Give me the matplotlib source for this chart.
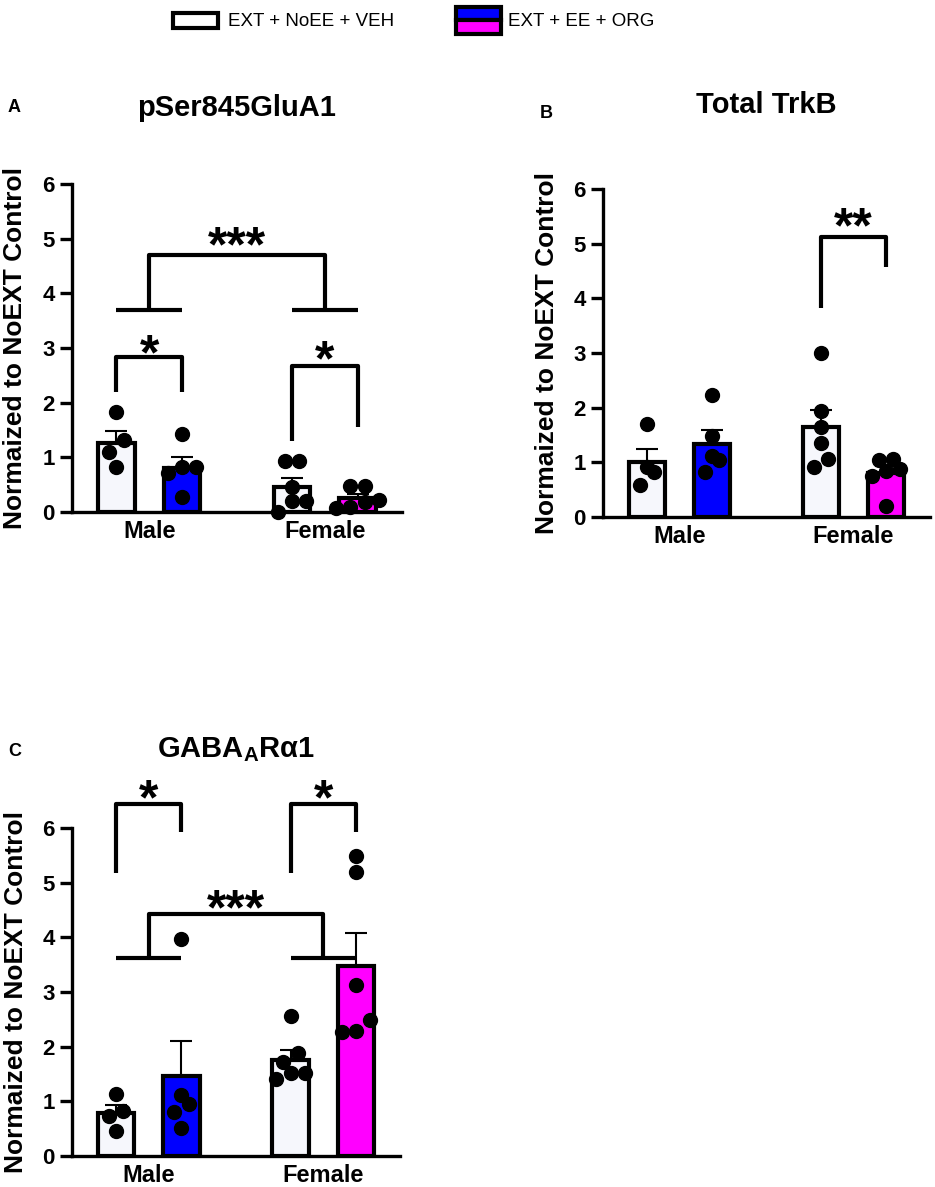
import numpy as np
import matplotlib
matplotlib.use('Agg')
import matplotlib.pyplot as plt
from matplotlib.patches import Rectangle

plt.rcParams['font.family'] = ['Liberation Sans', 'DejaVu Sans']
plt.rcParams['font.weight'] = 'bold'
plt.rcParams['mathtext.fontset'] = 'custom'
plt.rcParams['mathtext.rm'] = 'Liberation Sans:bold'
plt.rcParams['mathtext.bf'] = 'Liberation Sans:bold'

groups = ['Male', 'Female']
conditions = ['EXT + NoEE + VEH', 'EXT + EE + ORG']
ylabel = 'Normaized to NoEXT Control'
yticks = [0, 1, 2, 3, 4, 5, 6]

# single animals, [male, female]
glua_veh = [[1.83, 1.32, 1.10, 0.82], [0.93, 0.93, 0.46, 0.20, 0.20, 0.00]]
glua_org = [[1.43, 0.82, 0.82, 0.72, 0.27], [0.47, 0.47, 0.22, 0.18, 0.10, 0.08]]
trkb_veh = [[1.70, 0.91, 0.82, 0.59], [3.00, 1.94, 1.65, 1.35, 1.07, 0.92]]
trkb_org = [[2.23, 1.48, 1.12, 1.04, 0.83], [1.07, 1.05, 0.88, 0.85, 0.75, 0.20]]
gaba_veh = [[1.13, 0.82, 0.74, 0.46], [2.56, 1.88, 1.72, 1.51, 1.51, 1.41]]
gaba_org = [[3.97, 1.11, 0.96, 0.80, 0.51], [5.48, 5.19, 3.12, 2.49, 2.28, 2.27]]

# within-sex comparisons: (sex, bracket top, left leg end, right leg end, star y, label)
glua_pairs = [(0, 2.83, 2.20, 2.20, 3.10, '*'), (1, 2.67, 1.30, 1.55, 3.00, '*')]
trkb_pairs = [(1, 5.12, 3.82, 4.57, 5.52, '**')]
gaba_pairs = [(0, 6.43, 5.18, 5.93, 6.75, '*'), (1, 6.43, 5.18, 5.92, 6.75, '*')]
# sex comparison: (group line y, bracket top, star y, label)
glua_sex = (3.70, 4.70, 5.08, '***')
gaba_sex = (3.62, 4.42, 4.73, '***')

veh_color = '#f6f7fc'
org_colors = ['#0000ff', '#ff00ff']
off = 0.187
bw = 0.21
W, H = 935, 1187


def swarm(vals, center, ythr=0.27, step=0.082):
    vals = np.asarray(vals, dtype=float)
    order = np.argsort(vals, kind='stable')
    xs = np.full(len(vals), float(center))
    clusters = []
    for i in order:
        if clusters and vals[i] - vals[clusters[-1][0]] < ythr:
            clusters[-1].append(i)
        else:
            clusters.append([i])
    for c in clusters:
        offs = (np.arange(len(c)) - (len(c) - 1) / 2) * step
        for i, o in zip(c, offs):
            xs[i] = center + o
    return xs


def star(ax, x, y, label):
    ax.annotate(label, (x, y), xytext=(0, -10), textcoords='offset points',
                ha='center', va='center', fontsize=36, annotation_clip=False)


def panel(ax, veh, org, pairs, sex, title, letter, title_dy):
    for g in range(2):
        for vals, xc, fc in [(veh[g], g - off, veh_color), (org[g], g + off, org_colors[g])]:
            m = np.mean(vals)
            sem = np.std(vals, ddof=1) / np.sqrt(len(vals))
            ax.vlines(xc, m, m + sem, color='black', lw=1.5, zorder=1)
            ax.hlines(m + sem, xc - 0.063, xc + 0.063, color='black', lw=1.5, zorder=1)
            ax.bar(xc, m, width=bw, color=fc, edgecolor='black', lw=3, zorder=2)
            ax.plot(swarm(vals, xc), vals, 'o', color='black', ms=10, ls='none',
                    zorder=4, clip_on=False)
    kw = dict(color='black', lw=3, clip_on=False, solid_capstyle='butt')
    for g, top, yl, yr, ys, lab in pairs:
        x1, x2 = g - off, g + off
        ax.plot([x1, x1, x2, x2], [yl, top, top, yr], **kw)
        star(ax, (x1 + x2) / 2, ys, lab)
    if sex is not None:
        yline, top, ys, lab = sex
        for g in range(2):
            ax.plot([g - off, g + off], [yline, yline], **kw)
        ax.plot([0, 0, 1, 1], [yline, top, top, yline], **kw)
        star(ax, 0.5, ys, lab)

    ax.set_xlim(-0.44, 1.44)
    ax.set_ylim(0, 6)
    ax.set_yticks(yticks)
    ax.set_xticks([0, 1])
    ax.set_xticklabels(groups, fontsize=17)
    ax.tick_params(axis='y', labelsize=16, width=2.4, length=8.5, pad=4)
    ax.tick_params(axis='x', length=0, pad=6)
    for s in ['top', 'right']:
        ax.spines[s].set_visible(False)
    for s in ['left', 'bottom']:
        ax.spines[s].set_linewidth(2.4)
    ax.set_ylabel(ylabel, fontsize=19, fontweight='bold')
    ax.yaxis.set_label_coords(-0.135, 0.5)
    ax.text(0.5, 1.0 + title_dy / 328, title, transform=ax.transAxes, ha='center',
            va='center', fontsize=21)
    ax.text(-64 / 330, 1.0 + 76 / 328, letter, transform=ax.transAxes, ha='left',
            va='center', fontsize=13)


fig = plt.figure(figsize=(W / 100, H / 100), dpi=100)
axA = fig.add_axes([72 / W, 1 - 512 / H, 330 / W, 328 / H])
axB = fig.add_axes([603 / W, 1 - 517 / H, 327 / W, 328 / H])
axC = fig.add_axes([72 / W, 1 - 1156 / H, 328 / W, 328 / H])

panel(axA, glua_veh, glua_org, glua_pairs, glua_sex, 'pSer845GluA1', 'A', 76)
panel(axB, trkb_veh, trkb_org, trkb_pairs, None, 'Total TrkB', 'B', 84)
panel(axC, gaba_veh, gaba_org, gaba_pairs, gaba_sex, 'GABA$_\\mathrm{A}$R\u03b11', 'C', 78)

# legend along the top
fig.add_artist(Rectangle((173 / W, 1 - 28 / H), 45 / W, 15 / H, transform=fig.transFigure,
                         facecolor='white', edgecolor='black', lw=3))
fig.add_artist(Rectangle((456 / W, 1 - 20 / H), 45 / W, 13.5 / H, transform=fig.transFigure,
                         facecolor=org_colors[0], edgecolor='black', lw=3))
fig.add_artist(Rectangle((456 / W, 1 - 33.5 / H), 45 / W, 13.5 / H, transform=fig.transFigure,
                         facecolor=org_colors[1], edgecolor='black', lw=3))
fig.text(228 / W, 1 - 21 / H, conditions[0], ha='left', va='center', fontsize=13.5,
         fontweight='normal')
fig.text(508 / W, 1 - 21 / H, conditions[1], ha='left', va='center', fontsize=13.5,
         fontweight='normal')

fig.savefig('out.png', dpi=100)
